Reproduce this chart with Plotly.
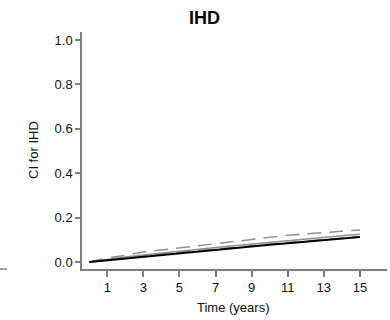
import plotly.graph_objects as go

time_years = list(range(0, 16))
ci_black = [0, 0.008, 0.016, 0.024, 0.033, 0.041, 0.049, 0.057, 0.064, 0.071, 0.078, 0.085, 0.092, 0.099, 0.106, 0.113]
ci_grey = [0, 0.013, 0.023, 0.032, 0.041, 0.049, 0.057, 0.065, 0.073, 0.081, 0.089, 0.097, 0.104, 0.111, 0.118, 0.125]
ci_upper = [0, 0.018, 0.030, 0.045, 0.054, 0.064, 0.074, 0.084, 0.093, 0.102, 0.111, 0.120, 0.127, 0.133, 0.139, 0.144]
ci_lower = [0, 0.010, 0.019, 0.028, 0.036, 0.044, 0.052, 0.060, 0.067, 0.074, 0.081, 0.088, 0.095, 0.102, 0.108, 0.114]
x_ticks = [1, 3, 5, 7, 9, 11, 13, 15]
y_ticks = [0.0, 0.2, 0.4, 0.6, 0.8, 1.0]
y_tick_text = ["0.0", "0.2", "0.4", "0.6", "0.8", "1.0"]

grey = "#909090"
axis_col = "#7f7f7f"
font_fam = "Liberation Sans, Arial, sans-serif"

L, R, T, B = 82, 3, 32, 51
W, H = 390, 320
pw, ph = W - L - R, H - T - B

def px(xp):
    return (xp - L) / pw

def py(yp):
    return (H - B - yp) / ph

fig = go.Figure()
fig.add_trace(go.Scatter(x=time_years, y=ci_upper, mode="lines",
                         line=dict(color=grey, width=1.5, dash="14px,8px"), showlegend=False))
fig.add_trace(go.Scatter(x=time_years, y=ci_lower, mode="lines",
                         line=dict(color=grey, width=1.5, dash="14px,8px"), showlegend=False))
fig.add_trace(go.Scatter(x=time_years, y=ci_grey, mode="lines",
                         line=dict(color=grey, width=1.5), showlegend=False))
fig.add_trace(go.Scatter(x=time_years, y=ci_black, mode="lines",
                         line=dict(color="black", width=2), showlegend=False))

fig.add_shape(type="line", xref="paper", yref="paper",
              x0=px(0), x1=px(7), y0=0, y1=0,
              line=dict(color=axis_col, width=1.5))

fig.add_annotation(text="<b>IHD</b>", xref="paper", yref="paper", x=px(204), y=py(18),
                   xanchor="center", yanchor="middle", showarrow=False,
                   font=dict(size=18, color="black", family=font_fam))
fig.add_annotation(text="Time (years)", xref="paper", yref="paper", x=px(233), y=py(307),
                   xanchor="center", yanchor="middle", showarrow=False,
                   font=dict(size=13, color="#111", family=font_fam))
fig.add_annotation(text="CI for IHD", xref="paper", yref="paper", x=px(33), y=py(150),
                   xanchor="center", yanchor="middle", showarrow=False, textangle=-90,
                   font=dict(size=13, color="#111", family=font_fam))

fig.update_layout(
    width=W, height=H,
    margin=dict(l=L, r=R, t=T, b=B, autoexpand=False),
    plot_bgcolor="white", paper_bgcolor="white",
    font=dict(family=font_fam, size=13, color="#111"),
    xaxis=dict(range=[-0.4, 16.5], tickvals=x_ticks, showline=True, linecolor=axis_col, linewidth=1.5,
               ticks="outside", ticklen=6, tickcolor=axis_col, tickwidth=1.5, showgrid=False, zeroline=False,
               automargin=False),
    yaxis=dict(range=[-0.0315, 1.036], tickvals=y_ticks, ticktext=y_tick_text, showline=True,
               linecolor=axis_col, linewidth=1.5, ticks="outside", ticklen=5, tickcolor=axis_col,
               tickwidth=1.5, showgrid=False, zeroline=False, automargin=False),
)

fig.write_html("out.html", config={"displayModeBar": False},
               post_script="document.body.style.margin='0';")
